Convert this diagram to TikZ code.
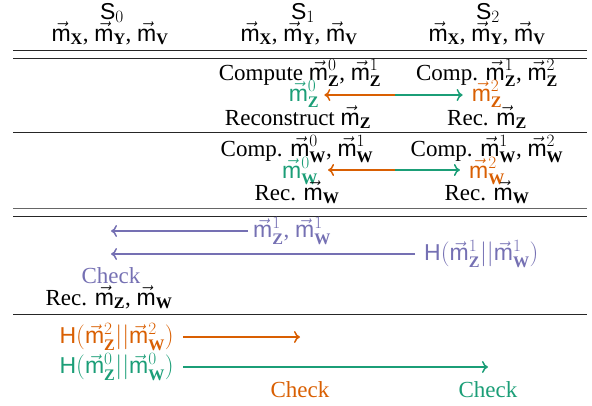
\documentclass[tikz,border=0pt]{standalone}
\usepackage{fontspec}
\setmainfont{Liberation Serif}
\setsansfont{Liberation Sans}
\usetikzlibrary{arrows.meta}
\definecolor{cor}{HTML}{D95F02}
\definecolor{cgr}{HTML}{1B9E77}
\definecolor{cpu}{HTML}{7570B3}
\newcommand{\vm}{\vec{\mathsf{m}}}
\newcommand{\mZ}[1]{\vm_{\mathbf{Z}}^{#1}}
\newcommand{\mW}[1]{\vm_{\mathbf{W}}^{#1}}
\newcommand{\mXYV}{$\vm_{\mathbf{X}}$, $\vm_{\mathbf{Y}}$, $\vm_{\mathbf{V}}$}
\begin{document}
\begin{tikzpicture}[x=1pt,y=-1pt,
  every node/.style={font=\fontsize{23}{27}\selectfont, inner sep=0pt},
  t/.style={anchor=base},
  rule/.style={line width=1pt, black!85},
  arr/.style={line width=1.5pt, -{Computer Modern Rightarrow[length=6pt,width=12pt]}}]
\useasboundingbox (0,0) rectangle (592,405);
% header
\node[t] (s0) at (112,19) {$\mathsf{S}_0$};
\node[t] (s1) at (303,19) {$\mathsf{S}_1$};
\node[t] (s2) at (488,19) {$\mathsf{S}_2$};
\node[t] (v0) at (110,41) {\mXYV};
\node[t] (v1) at (299,41) {\mXYV};
\node[t] (v2) at (487,41) {\mXYV};
\draw[rule] (13,50) -- (587,50);
\draw[rule] (13,58) -- (587,58);
% row 1
\node[t] (c1) at (300,80) {Compute $\mZ{0}$, $\mZ{1}$};
\node[t] (c2) at (487,80) {Comp. $\mZ{1}$, $\mZ{2}$};
\node[t,text=cgr] (z0) at (304,101) {$\mZ{0}$};
\node[t,text=cor] (z2) at (487,101) {$\mZ{2}$};
\coordinate (zm) at (395,95);
\draw[arr,cor] (zm) -- ([xshift=5pt]zm -| z0.east);
\draw[arr,cgr] (zm) -- ([xshift=-9pt]zm -| z2.west);
\node[t] (r1) at (298,125) {Reconstruct $\vm_{\mathbf{Z}}$};
\node[t] (r2) at (487,125) {Rec. $\vm_{\mathbf{Z}}$};
\draw[rule] (13,132) -- (587,132);
% row 2
\node[t] (d1) at (297,156) {Comp. $\mW{0}$, $\mW{1}$};
\node[t] (d2) at (487,156) {Comp. $\mW{1}$, $\mW{2}$};
\node[t,text=cgr] (w0) at (300,178) {$\mW{0}$};
\node[t,text=cor] (w2) at (487,178) {$\mW{2}$};
\coordinate (wm) at (395,170);
\draw[arr,cor] (wm) -- ([xshift=10pt]wm -| w0.east);
\draw[arr,cgr] (wm) -- ([xshift=-9pt]wm -| w2.west);
\node[t] (e1) at (297,200) {Rec. $\vm_{\mathbf{W}}$};
\node[t] (e2) at (487,200) {Rec. $\vm_{\mathbf{W}}$};
\draw[rule, black!60] (13,208) -- (587,208);
\draw[rule] (13,216) -- (587,216);
% row 3
\node[t,text=cpu] (chk) at (111,283) {Check};
\node[anchor=west,text=cpu] (l1) at (253,231) {$\mZ{1}$, $\mW{1}$};
\node[anchor=west,text=cpu] (l2) at (424,254) {$\mathsf{H}(\mZ{1}||\mW{1})$};
\draw[arr,cpu] ([xshift=-5pt]l1.west) -- (l1.west -| chk);
\draw[arr,cpu] ([xshift=-9pt]l2.west) -- (l2.west -| chk);
\node[t] (rz) at (109,305) {Rec. $\vm_{\mathbf{Z}}$, $\vm_{\mathbf{W}}$};
\draw[rule] (13,314) -- (587,314);
% row 4
\node[t,text=cor] (k1) at (300,397) {Check};
\node[t,text=cgr] (k2) at (488,397) {Check};
\node[anchor=east,text=cor] (h2) at (174,337) {$\mathsf{H}(\mZ{2}||\mW{2})$};
\node[anchor=east,text=cgr] (h0) at (174,367) {$\mathsf{H}(\mZ{0}||\mW{0})$};
\draw[arr,cor] ([xshift=9pt]h2.east) -- (h2.east -| k1);
\draw[arr,cgr] ([xshift=9pt]h0.east) -- (h0.east -| k2);
\end{tikzpicture}
\end{document}
